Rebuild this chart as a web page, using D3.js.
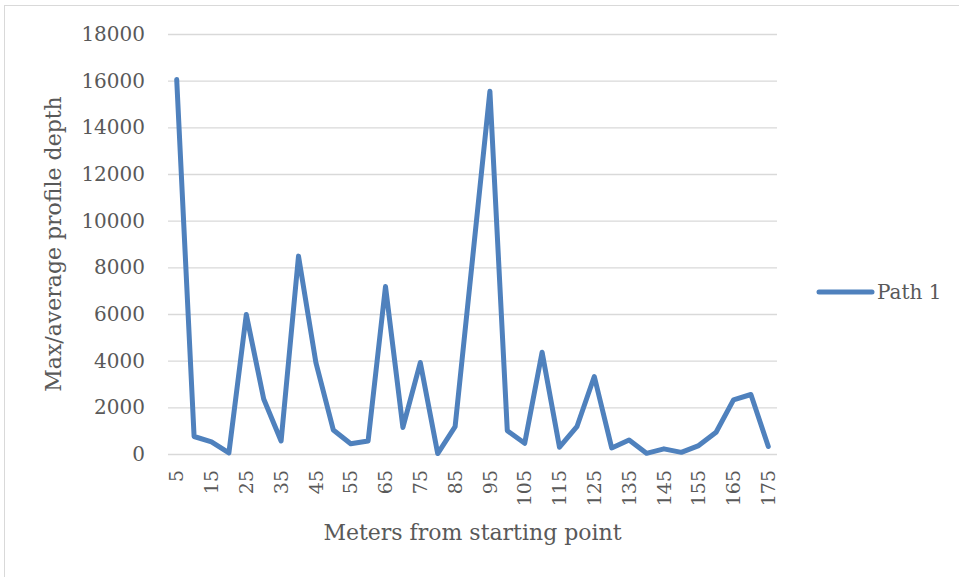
<!DOCTYPE html>
<html>
<head>
<meta charset="utf-8">
<script src="https://cdn.jsdelivr.net/npm/d3@7"></script>
<style>
  html, body { margin: 0; padding: 0; background: #fff; }
  svg { display: block; }
  text { font-family: "DejaVu Serif", "Liberation Serif", serif; fill: #595959; }
</style>
</head>
<body>
<svg id="chart" width="959" height="577"></svg>
<script>
// Distance along the path (m)
const meters = [5, 10, 15, 20, 25, 30, 35, 40, 45, 50, 55, 60, 65, 70, 75, 80, 85, 90,
                95, 100, 105, 110, 115, 120, 125, 130, 135, 140, 145, 150, 155, 160, 165, 170, 175];
// Max/average profile depth for Path 1
const path1 = [16050, 750, 520, 50, 5980, 2360, 560, 8480, 3920, 1030, 440, 560, 7180, 1140,
               3920, 20, 1170, 8350, 15550, 1000, 460, 4360, 290, 1170, 3320, 260, 600, 30,
               220, 70, 360, 930, 2320, 2550, 320];
const yTicks = [0, 2000, 4000, 6000, 8000, 10000, 12000, 14000, 16000, 18000];
const seriesName = "Path 1";
const xTitle = "Meters from starting point";
const yTitle = "Max/average profile depth";

const svg = d3.select("#chart");
const plot = { left: 168, right: 777, top: 34, bottom: 454 };
const lineColor = "#4f81bd";

// chart-area border
svg.append("rect")
  .attr("x", 4.5).attr("y", 5.5)
  .attr("width", 1000).attr("height", 1000)
  .attr("fill", "none").attr("stroke", "#d9d9d9").attr("stroke-width", 1);

const x = d3.scaleBand().domain(meters).range([plot.left, plot.right]).padding(0);
const y = d3.scaleLinear().domain([0, 18000]).range([plot.bottom, plot.top]);

// horizontal gridlines + y labels
const yAxis = d3.axisLeft(y).tickValues(yTicks).tickFormat(d3.format("d"))
  .tickSize(-(plot.right - plot.left)).tickPadding(23);
const gy = svg.append("g").attr("transform", `translate(${plot.left},0)`).call(yAxis);
gy.select(".domain").remove();
gy.selectAll(".tick line").attr("stroke", "#d9d9d9").attr("stroke-width", 1.3);
gy.selectAll(".tick text").attr("font-size", 20).attr("fill", "#595959")
  .style("font-family", "DejaVu Serif, serif");

// x axis labels, every other category, rotated
const xAxis = d3.axisBottom(x)
  .tickValues(meters.filter((d, i) => i % 2 === 0))
  .tickFormat(d3.format("d"))
  .tickSize(0).tickPadding(0);
const gx = svg.append("g").attr("transform", `translate(0,${plot.bottom})`).call(xAxis);
gx.select(".domain").remove();
gx.selectAll(".tick text")
  .attr("font-size", 19).attr("fill", "#595959")
  .style("font-family", "DejaVu Serif, serif")
  .attr("text-anchor", "end")
  .attr("dy", "0.35em")
  .attr("transform", "translate(0,16) rotate(-90)")
  .attr("x", 0).attr("y", 0);

// series line
const line = d3.line()
  .x((d, i) => x(meters[i]) + x.bandwidth() / 2)
  .y(d => y(d));
svg.append("path")
  .datum(path1)
  .attr("d", line)
  .attr("fill", "none")
  .attr("stroke", lineColor)
  .attr("stroke-width", 5)
  .attr("stroke-linejoin", "round")
  .attr("stroke-linecap", "round");

// axis titles
svg.append("text")
  .attr("x", (plot.left + plot.right) / 2).attr("y", 540)
  .attr("text-anchor", "middle").attr("font-size", 22)
  .text(xTitle);
svg.append("text")
  .attr("transform", `translate(61,${(plot.top + plot.bottom) / 2}) rotate(-90)`)
  .attr("text-anchor", "middle").attr("font-size", 22)
  .text(yTitle);

// legend
svg.append("line")
  .attr("x1", 819).attr("x2", 872).attr("y1", 292).attr("y2", 292)
  .attr("stroke", lineColor).attr("stroke-width", 5).attr("stroke-linecap", "round");
svg.append("text")
  .attr("x", 877).attr("y", 292).attr("dy", "0.35em")
  .attr("font-size", 20)
  .text(seriesName);
</script>
</body>
</html>
